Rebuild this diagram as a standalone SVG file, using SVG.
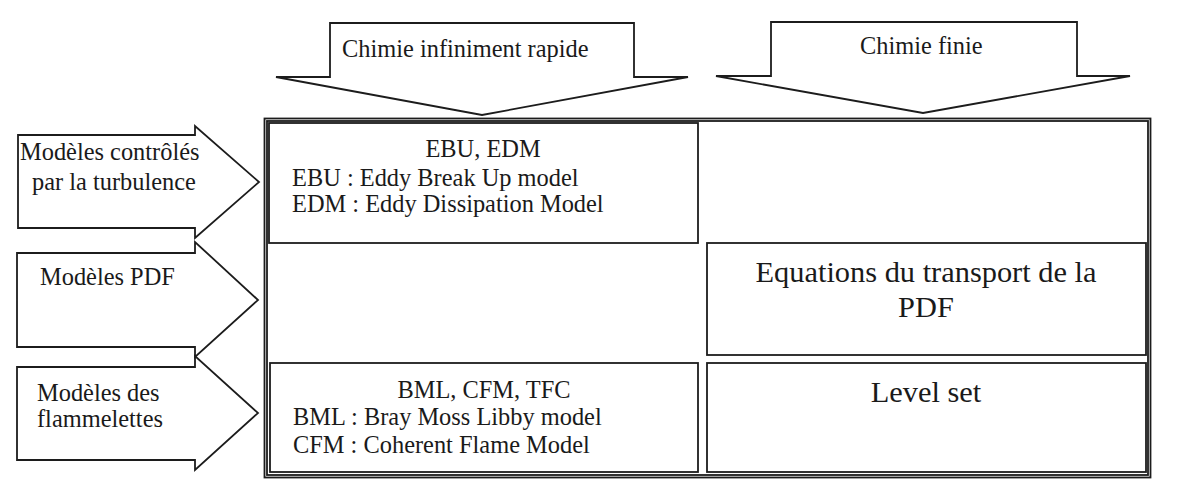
<svg xmlns="http://www.w3.org/2000/svg" width="1187" height="503" viewBox="0 0 1187 503">
<style>
.shape{fill:#ffffff;stroke:#1c1c1c;stroke-width:1.8;stroke-linejoin:miter}
.box{fill:none;stroke:#1c1c1c;stroke-width:1.8}
.t{font-family:"Liberation Serif","Times New Roman",serif;font-size:24.4px;fill:#1a1a1a}
.big{font-size:30.4px}
.c{text-anchor:middle}
</style>
<rect width="1187" height="503" fill="#ffffff"/>
<g id="frame">
<rect x="264.5" y="118.5" width="886" height="359" class="box" stroke-width="1.4"/>
<rect x="267" y="121" width="881" height="354" class="box" stroke-width="1.1"/>
</g>
<g id="arrow-chimie-rapide">
<path class="shape" d="M330,23 H634 V77 H688 L482,115 L276,77 H330 Z"/>
<text class="t" x="342" y="57">Chimie infiniment rapide</text>
</g>
<g id="arrow-chimie-finie">
<path class="shape" d="M771,22 H1077 V76 H1130 L923,113 L716,76 H771 Z"/>
<text class="t" x="860" y="54">Chimie finie</text>
</g>
<g id="arrow-turbulence">
<path class="shape" d="M18,135 H195 V126 L259,182 L195,238 V228 H18 Z"/>
<text class="t" x="20" y="160">Modèles contrôlés</text>
<text class="t" x="32" y="190">par la turbulence</text>
</g>
<g id="arrow-pdf">
<path class="shape" d="M17,253 H195 V242 L258,300 L195,357 V347 H17 Z"/>
<text class="t" x="40" y="285">Modèles PDF</text>
</g>
<g id="arrow-flammelettes">
<path class="shape" d="M17,367 H195 V356 L258,413 L195,470 V460 H17 Z"/>
<text class="t" x="37" y="401">Modèles des</text>
<text class="t" x="37" y="427">flammelettes</text>
</g>
<g id="box-ebu-edm">
<rect class="box" x="269" y="123" width="429" height="120"/>
<text class="t c" x="483" y="157">EBU, EDM</text>
<text class="t" x="292" y="186">EBU : Eddy Break Up model</text>
<text class="t" x="292" y="212">EDM : Eddy Dissipation Model</text>
</g>
<g id="box-equations-pdf">
<rect class="box" x="707" y="243" width="439" height="112"/>
<text class="t big c" x="926" y="282">Equations du transport de la</text>
<text class="t big c" x="926" y="317">PDF</text>
</g>
<g id="box-bml-cfm-tfc">
<rect class="box" x="270" y="363" width="428" height="109"/>
<text class="t c" x="484" y="398">BML, CFM, TFC</text>
<text class="t" x="293" y="425">BML : Bray Moss Libby model</text>
<text class="t" x="293" y="453">CFM : Coherent Flame Model</text>
</g>
<g id="box-level-set">
<rect class="box" x="707" y="363" width="439" height="109"/>
<text class="t big c" x="926" y="402">Level set</text>
</g>
<g id="connectors"></g>
</svg>
